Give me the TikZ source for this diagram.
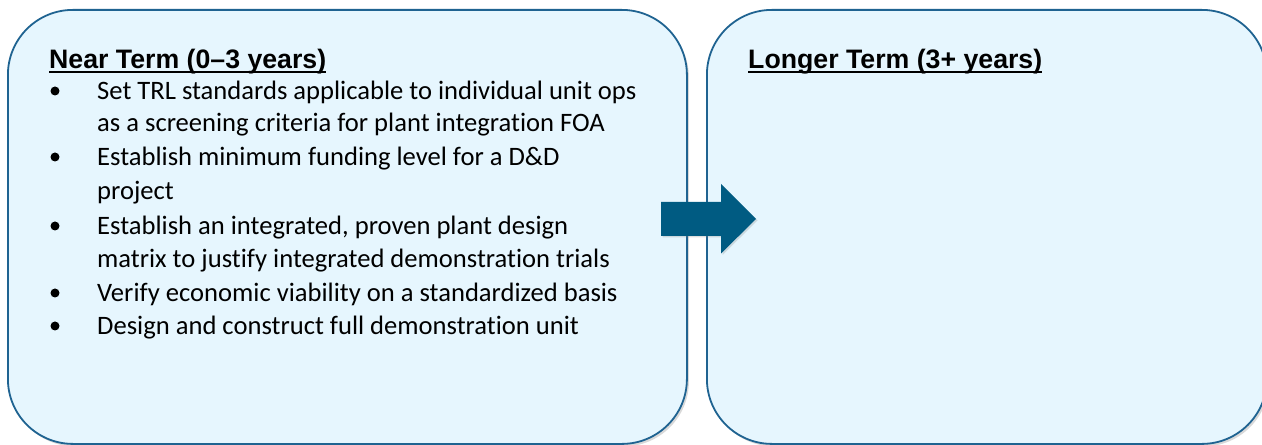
\documentclass[tikz,border=0pt]{standalone}
\usepackage{fontspec}
\setmainfont{Carlito}[Ligatures={NoCommon,NoRequired,NoContextual}, Contextuals={NoAlternate}]
\newfontfamily\headfont{Liberation Sans}
\usetikzlibrary{positioning,shadows}
\definecolor{termBlue}{HTML}{1F6391}
\definecolor{termFill}{HTML}{E6F6FE}
\definecolor{arrowBlue}{HTML}{005B82}

\begin{document}
\begin{tikzpicture}[x=1bp, y=-1bp,
  termbox/.style={rectangle, rounded corners=65bp, draw=termBlue,
    fill=termFill, line width=1.8bp, inner sep=0pt, anchor=north west,
    drop shadow={shadow xshift=2bp, shadow yshift=-2.5bp, opacity=0.3}},
  termtitle/.style={font=\headfont\bfseries\fontsize{26.7bp}{32bp}\selectfont,
    anchor=base west, inner sep=0pt},
  itemtext/.style={font=\fontsize{26.6bp}{32bp}\selectfont,
    anchor=base west, inner sep=0pt},
  itemdot/.style={circle, fill=black, inner sep=0pt, minimum size=9bp},
  titleline/.style={line width=2bp},
]
\useasboundingbox (0,0) rectangle (1262,445);

% ======= Near term box =======
\node[termbox, minimum width=679bp, minimum height=434bp] (nearbox) at (7,9) {};
\node[termtitle] (neartitle) at (49,69) {Near Term (0–3 years)};
\draw[titleline] ([yshift=-3.5bp]neartitle.base west) -- ([yshift=-3.5bp]neartitle.base east);

% Items
\node[itemdot] (dot1) at (55,91) {};
\node[itemtext] (item1a) at (97,100) {Set TRL standards applicable to individual unit ops};
\node[itemtext] (item1b) at (97,132) {as a screening criteria for plant integration FOA};
\node[itemdot] (dot2) at (55,157) {};
\node[itemtext] (item2a) at (97,166) {Establish minimum funding level for a D\&D};
\node[itemtext] (item2b) at (97,200) {project};
\node[itemdot] (dot3) at (55,226) {};
\node[itemtext] (item3a) at (97,235) {Establish an integrated, proven plant design};
\node[itemtext] (item3b) at (97,268) {matrix to justify integrated demonstration trials};
\node[itemdot] (dot4) at (55,293) {};
\node[itemtext] (item4) at (97,302) {Verify economic viability on a standardized basis};
\node[itemdot] (dot5) at (55,326) {};
\node[itemtext] (item5) at (97,335) {Design and construct full demonstration unit};

% ======= Longer term box =======
\node[termbox, minimum width=560bp, minimum height=434bp] (longbox) at (706,9) {};
\node[termtitle] (longtitle) at (748,69) {Longer Term (3+ years)};
\draw[titleline] ([yshift=-3.5bp]longtitle.base west) -- ([yshift=-3.5bp]longtitle.base east);

% Arrow between the terms
\coordinate (shift) at (661,219);
\fill[arrowBlue, drop shadow={shadow xshift=1.5bp, shadow yshift=-1.5bp, opacity=0.25}]
  (shift) ++(0,-17) -- ++(60,0) -- ++(0,-18) -- ++(35,35) -- ++(-35,34.5)
  -- ++(0,-17.5) -- ++(-60,0) -- cycle;

\end{tikzpicture}
\end{document}
